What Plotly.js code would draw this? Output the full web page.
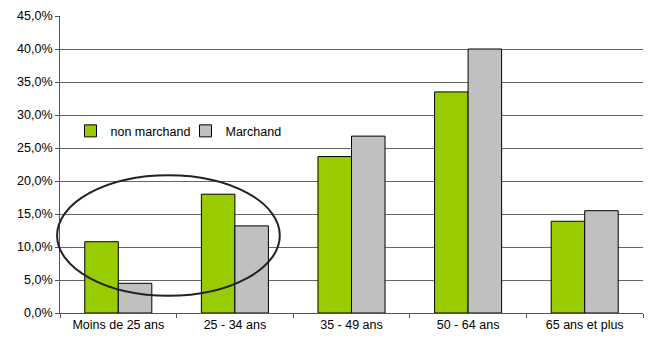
<!DOCTYPE html>
<html>
<head>
<meta charset="utf-8">
<script src="https://cdn.plot.ly/plotly-3.0.1.min.js"></script>
<style>html,body{margin:0;padding:0;background:#fff;}#chart{width:650px;height:338px;}</style>
</head>
<body>
<div id="chart"></div>
<script>
const categories = ["Moins de 25 ans", "25 - 34 ans", "35 - 49 ans", "50 - 64 ans", "65 ans et plus"];
const nonMarchand = [10.8, 18.0, 23.7, 33.5, 13.9];
const marchand = [4.5, 13.2, 26.8, 40.0, 15.5];
const seriesNames = ["non marchand", "Marchand"];
const yTicks = [0, 5, 10, 15, 20, 25, 30, 35, 40, 45];
const yTickLabels = ["0,0%", "5,0%", "10,0%", "15,0%", "20,0%", "25,0%", "30,0%", "35,0%", "40,0%", "45,0%"];

const traces = [
  {type: "bar", name: seriesNames[0], x: categories, y: nonMarchand,
   marker: {color: "#99CC00", line: {color: "#000000", width: 1}}},
  {type: "bar", name: seriesNames[1], x: categories, y: marchand,
   marker: {color: "#C0C0C0", line: {color: "#000000", width: 1}}}
];

const layout = {
  width: 650, height: 338,
  margin: {l: 60, r: 7, t: 16, b: 25, pad: 0},
  paper_bgcolor: "#ffffff", plot_bgcolor: "#ffffff",
  font: {family: "'Liberation Sans', Arial, sans-serif", size: 12.5, color: "#000000"},
  barmode: "group", bargap: 0.425, bargroupgap: 0,
  showlegend: true,
  legend: {orientation: "h", x: 0.018, y: 0.612, xanchor: "left", yanchor: "middle",
           bgcolor: "rgba(0,0,0,0)", font: {size: 12.5}, entrywidth: 70, traceorder: "normal"},
  xaxis: {type: "category", showline: true, linecolor: "#555555", linewidth: 1,
          ticks: "outside", ticklen: 4, tickcolor: "#555555", tickson: "boundaries",
          showgrid: false, fixedrange: true},
  yaxis: {range: [0, 45], tickmode: "array", tickvals: yTicks, ticktext: yTickLabels,
          showline: true, linecolor: "#555555", linewidth: 1,
          ticks: "outside", ticklen: 4, tickcolor: "#555555",
          showgrid: true, gridcolor: "#666666", gridwidth: 1, zeroline: false, fixedrange: true},
  shapes: [
    {type: "circle", xref: "paper", yref: "paper", x0: -0.005, x1: 0.377, y0: 0.058, y1: 0.464,
     line: {color: "#222222", width: 2}, fillcolor: "rgba(0,0,0,0)", layer: "above"}
  ]
};

Plotly.newPlot("chart", traces, layout, {displayModeBar: false, staticPlot: true});
</script>
</body>
</html>
